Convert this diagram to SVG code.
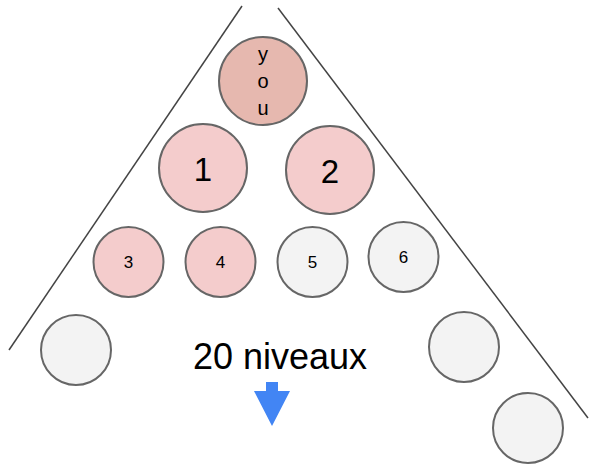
<svg xmlns="http://www.w3.org/2000/svg" width="590" height="465" viewBox="0 0 590 465">
<style>
.n{stroke:#666;stroke-width:2}
.pk{fill:#f4cccc}
.gr{fill:#f3f3f3}
.t{font-family:"Liberation Sans",Arial,sans-serif;fill:#000;text-anchor:middle}
.ln{stroke:#444;stroke-width:1.5;fill:none}
</style>
<rect width="590" height="465" fill="#fff"/>
<g id="connectors">
<line class="ln" x1="242" y1="6" x2="9" y2="350"/>
<line class="ln" x1="278" y1="8" x2="588" y2="418"/>
</g>
<g id="you"><circle class="n" cx="263" cy="81" r="44" fill="#e6b8af"/>
<text class="t" x="263" y="61" font-size="20">y</text>
<text class="t" x="263" y="88" font-size="20">o</text>
<text class="t" x="263" y="115" font-size="20">u</text></g>
<g id="n1"><circle class="n pk" cx="203" cy="168" r="44"/><text class="t" x="203" y="181" font-size="33">1</text></g>
<g id="n2"><circle class="n pk" cx="330" cy="170" r="44"/><text class="t" x="330" y="183" font-size="33">2</text></g>
<g id="n3"><circle class="n pk" cx="128.5" cy="262" r="35"/><text class="t" x="128.5" y="268" font-size="17">3</text></g>
<g id="n4"><circle class="n pk" cx="220.5" cy="262" r="35"/><text class="t" x="220.5" y="268" font-size="17">4</text></g>
<g id="n5"><circle class="n gr" cx="312.5" cy="262" r="35"/><text class="t" x="312.5" y="268" font-size="17">5</text></g>
<g id="n6"><circle class="n gr" cx="403.5" cy="257" r="35"/><text class="t" x="403.5" y="263" font-size="17">6</text></g>
<g id="n7"><circle class="n gr" cx="76" cy="350" r="35"/></g>
<g id="n8"><circle class="n gr" cx="464" cy="347" r="35"/></g>
<g id="n9"><circle class="n gr" cx="528" cy="428" r="35"/></g>
<g id="label"><text class="t" x="280" y="369" font-size="36">20 niveaux</text></g>
<g id="arrow"><polygon points="266,382 278,382 278,391 290,391 272,426 254,391 266,391" fill="#4285f4"/></g>
</svg>
